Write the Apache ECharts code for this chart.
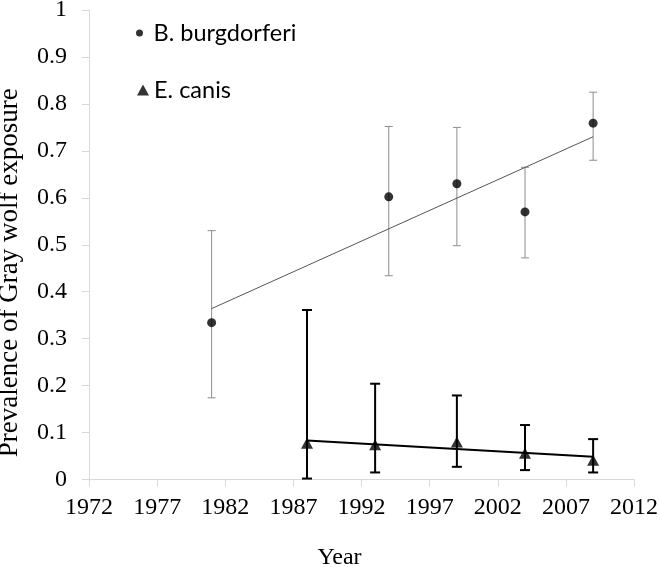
<!DOCTYPE html>
<html>
<head>
<meta charset="utf-8">
<script src="https://cdn.jsdelivr.net/npm/echarts@6/dist/echarts.min.js"></script>
<style>html,body{margin:0;padding:0;background:#fff;}#chart{width:660px;height:567px;}</style>
</head>
<body>
<div id="chart"></div>
<script>
// B. burgdorferi
var bYears = [1981, 1994, 1999, 2004, 2009];
var bValues = [0.334, 0.602, 0.630, 0.570, 0.759];
var bLow = [0.174, 0.434, 0.498, 0.472, 0.680];
var bHigh = [0.530, 0.752, 0.750, 0.665, 0.825];
var bTrendYears = [1981, 2009];
var bTrendValues = [0.364, 0.730];
// E. canis
var eYears = [1988, 1993, 1999, 2004, 2009];
var eValues = [0.077, 0.074, 0.080, 0.056, 0.041];
var eLow = [0.002, 0.015, 0.027, 0.020, 0.015];
var eHigh = [0.361, 0.204, 0.179, 0.116, 0.086];
var eTrendYears = [1988, 2009];
var eTrendValues = [0.083, 0.0486];

function pairs(xs, ys) { return xs.map(function (x, i) { return [x, ys[i]]; }); }
function triples(xs, lo, hi) { return xs.map(function (x, i) { return [x, lo[i], hi[i]]; }); }

function errRenderer(color, lw, hw) {
  return function (params, api) {
    var x = api.value(0), lo = api.value(1), hi = api.value(2);
    var a = api.coord([x, lo]), b = api.coord([x, hi]);
    var st = { stroke: color, lineWidth: lw };
    return {
      type: 'group',
      children: [
        { type: 'line', shape: { x1: a[0], y1: a[1], x2: b[0], y2: b[1] }, style: st },
        { type: 'line', shape: { x1: a[0] - hw, y1: a[1], x2: a[0] + hw, y2: a[1] }, style: st },
        { type: 'line', shape: { x1: b[0] - hw, y1: b[1], x2: b[0] + hw, y2: b[1] }, style: st }
      ]
    };
  };
}

var chart = echarts.init(document.getElementById('chart'), null, { renderer: 'canvas' });
var serif = '"Liberation Serif", "Times New Roman", serif';
var sans = 'Lato, "Open Sans", sans-serif';

chart.setOption({
  animation: false,
  backgroundColor: '#fff',
  grid: { left: 89, right: 26, top: 10, bottom: 87.5, containLabel: false, outerBoundsMode: 'none' },
  legend: [
    {
      data: [{ name: 'B. burgdorferi', icon: 'circle' }],
      left: 131, top: 16, itemWidth: 18, itemHeight: 7,
      textStyle: { fontFamily: sans, fontSize: 23.5, color: '#000' }
    },
    {
      data: [{ name: 'E. canis', icon: 'triangle' }],
      left: 132, top: 73, itemWidth: 12, itemHeight: 11,
      textStyle: { fontFamily: sans, fontSize: 23.5, color: '#000' }
    }
  ],
  xAxis: {
    type: 'value', min: 1972, max: 2012, interval: 5,
    name: 'Year', nameLocation: 'middle', nameGap: 66,
    nameTextStyle: { fontFamily: serif, fontSize: 24, color: '#000', padding: [0, 44, 0, 0] },
    axisLine: { show: true, lineStyle: { color: '#d9d9d9', width: 1 } },
    axisTick: { show: true, length: 7, lineStyle: { color: '#d9d9d9' } },
    axisLabel: { fontFamily: serif, fontSize: 24, color: '#000', margin: 16, formatter: function (v) { return String(v); } },
    splitLine: { show: false }
  },
  yAxis: {
    type: 'value', min: 0, max: 1, interval: 0.1,
    name: 'Prevalence of Gray wolf exposure', nameLocation: 'middle', nameGap: 66, nameRotate: 90,
    nameTextStyle: { fontFamily: serif, fontSize: 27, color: '#000', padding: [0, 56, 0, 0] },
    axisLine: { show: true, lineStyle: { color: '#d9d9d9', width: 1 } },
    axisTick: { show: true, length: 7, lineStyle: { color: '#d9d9d9' } },
    axisLabel: { fontFamily: serif, fontSize: 24, color: '#000', margin: 22 },
    splitLine: { show: false }
  },
  series: [
    {
      name: 'B error', type: 'custom', renderItem: errRenderer('#8c8c8c', 1, 4),
      data: triples(bYears, bLow, bHigh), encode: { x: 0, y: [1, 2] }, z: 1, silent: true
    },
    {
      name: 'E error', type: 'custom', renderItem: errRenderer('#000', 2, 5),
      data: triples(eYears, eLow, eHigh), encode: { x: 0, y: [1, 2] }, z: 1, silent: true
    },
    {
      name: 'B trend', type: 'line', data: pairs(bTrendYears, bTrendValues), showSymbol: false,
      lineStyle: { color: '#555', width: 1 }, z: 2, silent: true
    },
    {
      name: 'E trend', type: 'line', data: pairs(eTrendYears, eTrendValues), showSymbol: false,
      lineStyle: { color: '#000', width: 2 }, z: 2, silent: true
    },
    {
      name: 'B. burgdorferi', type: 'scatter', data: pairs(bYears, bValues),
      symbol: 'circle', symbolSize: 9, itemStyle: { color: '#000' }, z: 3
    },
    {
      name: 'E. canis', type: 'scatter', data: pairs(eYears, eValues),
      symbol: 'triangle', symbolSize: [12, 11], itemStyle: { color: '#000' }, z: 3
    }
  ]
});
</script>
</body>
</html>
